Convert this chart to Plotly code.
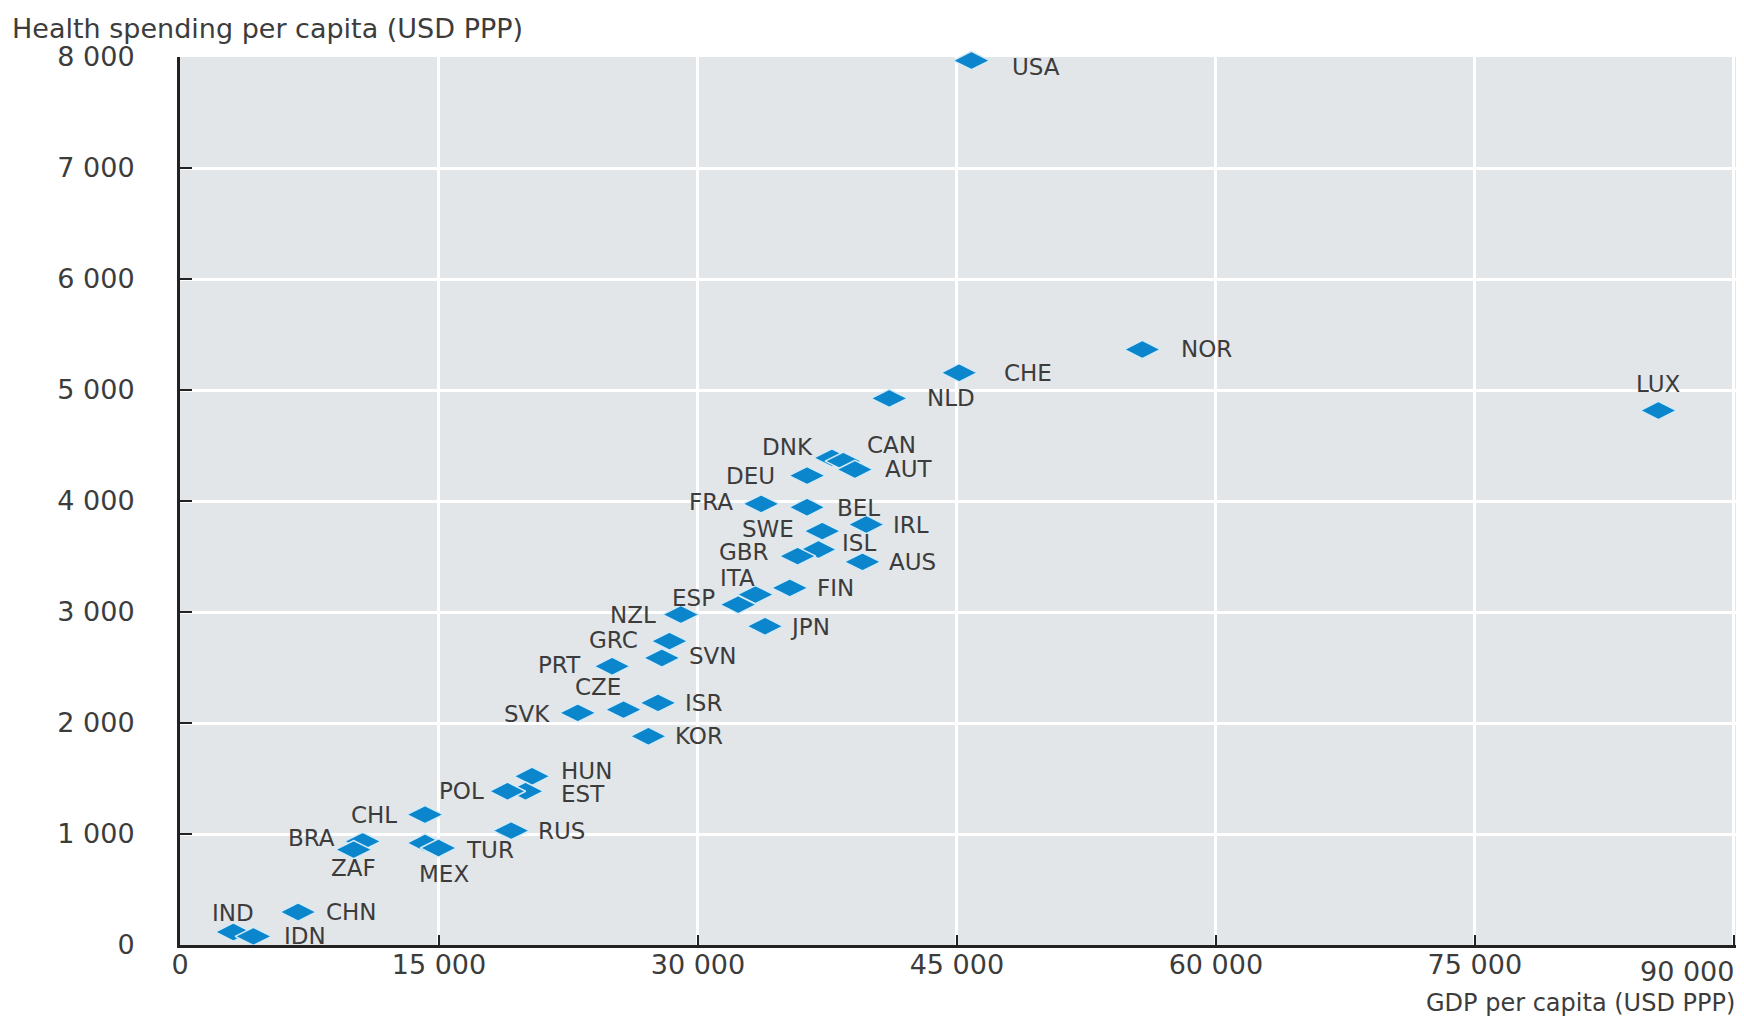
import plotly.graph_objects as go


# GDP per capita vs health spending per capita, USD PPP
COUNTRIES = [
    "USA", "NOR", "CHE", "NLD", "LUX", "DNK", "CAN", "AUT", "DEU", "FRA",
    "BEL", "IRL", "SWE", "ISL", "GBR", "AUS", "FIN", "ITA", "ESP", "NZL",
    "JPN", "GRC", "SVN", "PRT", "ISR", "CZE", "SVK", "KOR", "HUN", "EST",
    "POL", "CHL", "RUS", "BRA", "ZAF", "MEX", "TUR", "CHN", "IND", "IDN",
]
GDP = [
    45840, 55740, 45130, 41080, 85630, 37760, 38420, 39090, 36320, 33660,
    36320, 39750, 37200, 36980, 35770, 39530, 35320, 33330, 32330, 29010,
    33880, 28350, 27910, 25030, 27690, 25690, 23040, 27130, 20390, 20010,
    18970, 14190, 19180, 10580, 10060, 14190, 14970, 6840, 3090, 4250,
]
HEALTH = [
    7968, 5365, 5155, 4925, 4815, 4389, 4359, 4284, 4229, 3974,
    3944, 3788, 3728, 3563, 3503, 3452, 3217, 3157, 3067, 2977,
    2872, 2737, 2586, 2511, 2181, 2121, 2091, 1881, 1520, 1385,
    1385, 1175, 1030, 934, 859, 919, 874, 297, 117, 78,
]

X_TICKS = [0, 15000, 30000, 45000, 60000, 75000, 90000]
X_TICKTEXT = ["0", "15 000", "30 000", "45 000", "60 000", "75 000", "90 000"]
Y_TICKS = [0, 1000, 2000, 3000, 4000, 5000, 6000, 7000, 8000]
Y_TICKTEXT = ["0", "1 000", "2 000", "3 000", "4 000", "5 000", "6 000", "7 000", "8 000"]

# label placement: (xanchor, dx px, dy px) relative to the marker centre
LABEL_POS = {
    "USA": ("left", 39, 6), "NOR": ("left", 37, 0), "CHE": ("left", 43, 0),
    "NLD": ("left", 36, 0), "LUX": ("center", 0, -27), "DNK": ("right", -17, -11),
    "CAN": ("left", 22, -16), "AUT": ("left", 28, 0), "DEU": ("right", -30, 0),
    "FRA": ("right", -26, -2), "BEL": ("left", 28, 1), "IRL": ("left", 25, 0),
    "SWE": ("right", -26, -2), "ISL": ("left", 22, -7), "GBR": ("right", -27, -4),
    "AUS": ("left", 25, 0), "FIN": ("left", 25, 0), "ITA": ("center", -18, -17),
    "ESP": ("right", -21, -7), "NZL": ("right", -23, 0), "JPN": ("left", 23, 1),
    "GRC": ("right", -29, -1), "SVN": ("left", 25, -2), "PRT": ("right", -29, -1),
    "ISR": ("left", 25, 0), "CZE": ("center", -26, -23), "SVK": ("right", -26, 1),
    "KOR": ("left", 25, 0), "HUN": ("left", 27, -5), "EST": ("left", 34, 3),
    "POL": ("right", -22, 0), "CHL": ("right", -26, 0), "RUS": ("left", 25, 0),
    "BRA": ("right", -26, -3), "ZAF": ("center", 0, 18), "MEX": ("center", 19, 31),
    "TUR": ("left", 26, 2), "CHN": ("left", 26, 0), "IND": ("center", 0, -19),
    "IDN": ("left", 29, 0),
}

FONT = "DejaVu Sans, Arial, sans-serif"
TEXT_COLOR = "#3c3c3c"
AXIS_COLOR = "#222222"

fig = go.Figure()

fig.add_trace(
    go.Scatter(
        x=GDP, y=HEALTH, mode="markers", text=COUNTRIES,
        marker=dict(symbol="diamond-wide", size=26, color="#0b86cc",
                    line=dict(color="#d4eaf7", width=1.5)),
        cliponaxis=False, hoverinfo="text+x+y",
    )
)

annotations = []
for name, gx, hy in zip(COUNTRIES, GDP, HEALTH):
    anchor, dx, dy = LABEL_POS[name]
    annotations.append(dict(
        x=gx, y=hy, xref="x", yref="y", text=name, showarrow=False,
        xanchor=anchor, yanchor="middle", xshift=dx, yshift=-dy,
        font=dict(family=FONT, size=23, color=TEXT_COLOR),
    ))

annotations.append(dict(
    xref="paper", yref="paper", x=0, y=1, xanchor="left", yanchor="middle",
    xshift=-170, yshift=29, showarrow=False,
    text="Health spending per capita (USD PPP)",
    font=dict(family=FONT, size=27, color=TEXT_COLOR),
))
annotations.append(dict(
    xref="paper", yref="paper", x=1, y=0, xanchor="right", yanchor="middle",
    xshift=-2, yshift=-58, showarrow=False,
    text="GDP per capita (USD PPP)",
    font=dict(family=FONT, size=24, color=TEXT_COLOR),
))
# last x tick label is right-aligned to its tick so it stays on the page
annotations.append(dict(
    xref="x", yref="paper", x=X_TICKS[-1], y=0, xanchor="right", yanchor="middle",
    xshift=2, yshift=-26, showarrow=False, text=X_TICKTEXT[-1],
    font=dict(family=FONT, size=27, color=TEXT_COLOR),
))

x_ticktext = X_TICKTEXT[:-1] + [""]

fig.update_xaxes(
    range=[0, 90300], tickvals=X_TICKS, ticktext=x_ticktext,
    showgrid=True, gridcolor="white", gridwidth=2.5, zeroline=False,
    showline=True, linecolor=AXIS_COLOR, linewidth=3,
    ticks="inside", ticklen=10, tickwidth=2, tickcolor=AXIS_COLOR,
    ticklabelstandoff=-6, automargin=False,
    tickfont=dict(family=FONT, size=27, color=TEXT_COLOR),
)
fig.update_yaxes(
    range=[0, 8000], tickvals=Y_TICKS, ticktext=Y_TICKTEXT,
    showgrid=True, gridcolor="white", gridwidth=2.5, zeroline=False,
    showline=True, linecolor=AXIS_COLOR, linewidth=3,
    ticks="inside", ticklen=12, tickwidth=2, tickcolor=AXIS_COLOR,
    ticklabelstandoff=37, automargin=False,
    tickfont=dict(family=FONT, size=27, color=TEXT_COLOR),
)

fig.update_layout(
    width=1744, height=1016,
    margin=dict(l=172, r=13, t=49, b=79),
    plot_bgcolor="#e3e6e9", paper_bgcolor="white",
    showlegend=False,
    annotations=annotations,
)

fig.write_html("out.html")
